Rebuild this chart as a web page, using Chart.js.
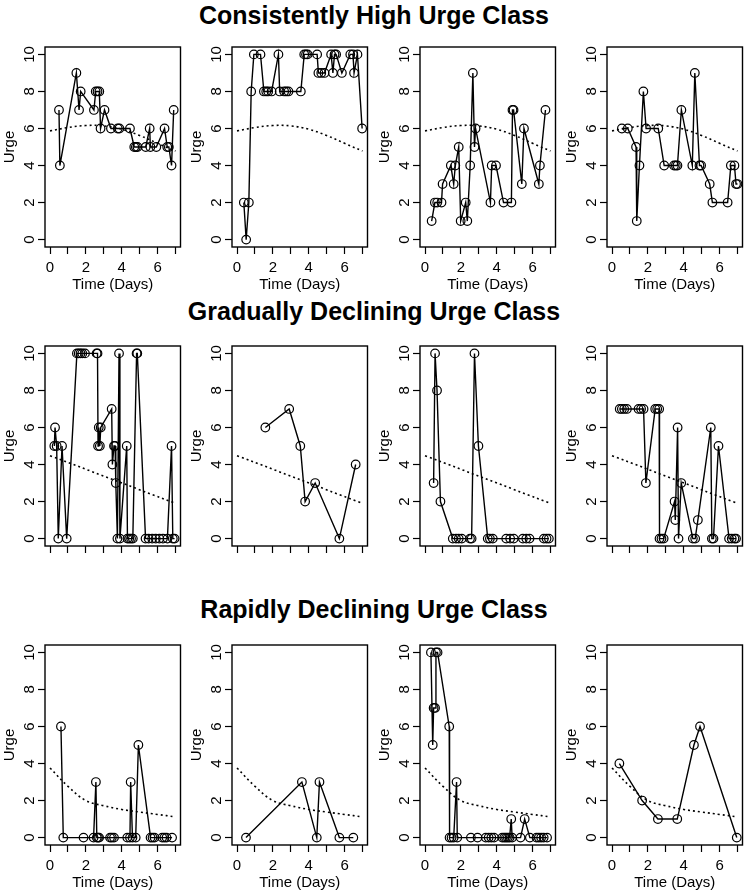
<!DOCTYPE html>
<html>
<head>
<meta charset="utf-8">
<script src="https://cdn.jsdelivr.net/npm/chart.js@4.4.1/dist/chart.umd.min.js"></script>
<style>
  body { margin: 0; background: #fff; width: 748px; height: 896px; overflow: hidden; position: relative; }
  .rowTitle { position: absolute; left: 0; width: 748px; text-align: center; font: bold 25px "Liberation Sans", Arial, Helvetica, sans-serif; line-height: 25px; color: #000; }
  canvas { position: absolute; }
</style>
</head>
<body>
<div class="rowTitle" style="top:3px">Consistently High Urge Class</div>
<div class="rowTitle" style="top:299px">Gradually Declining Urge Class</div>
<div class="rowTitle" style="top:597px">Rapidly Declining Urge Class</div>

<script>
// axis ticks
const xTicks = [0, 1, 2, 3, 4, 5, 6, 7];
const xLabelDays = [0, 2, 4, 6];
const yTicks = [0, 2, 4, 6, 8, 10];

// model mean trajectories (dotted)
const curveDays = [0, 1, 2, 3, 4, 5, 6, 7];
const highCurve = [5.87, 6.05, 6.16, 6.14, 5.96, 5.62, 5.20, 4.78];
const gradualDays = [0, 7];
const gradualCurve = [4.48, 1.90];
const rapidCurve = [3.76, 2.77, 2.00, 1.72, 1.52, 1.38, 1.25, 1.12];

// consistently high class
const highA_days = [0.50,0.55,1.47,1.62,1.71,2.45,2.55,2.65,2.75,2.82,3.04,3.40,3.78,3.87,4.46,4.70,4.79,4.88,5.34,5.56,5.60,5.93,6.39,6.54,6.63,6.78,6.90];
const highA_urge = [7,4,9,7,8,7,8,8,8,6,7,6,6,6,6,5,5,5,5,6,5,5,6,5,5,4,7];
const highB_days = [0.38,0.51,0.66,0.79,0.94,1.31,1.50,1.63,1.74,1.93,2.31,2.38,2.63,2.75,2.87,3.56,3.75,3.85,3.94,4.47,4.54,4.70,4.88,5.25,5.35,5.44,5.53,5.85,6.32,6.47,6.53,6.72,6.98];
const highB_urge = [2,0,2,8,10,10,8,8,8,8,10,8,8,8,8,8,10,10,10,10,9,9,9,10,9,10,10,9,10,10,9,10,6];
const highC_days = [0.37,0.55,0.68,0.92,0.98,1.44,1.60,1.69,1.88,1.99,2.27,2.36,2.52,2.67,2.76,2.82,3.65,3.72,3.96,4.38,4.82,4.88,4.94,5.40,5.52,6.35,6.41,6.72];
const highC_urge = [1,2,2,2,3,4,3,4,5,1,2,1,4,9,5,6,2,4,4,2,2,7,7,3,6,3,4,7];
const highD_days = [0.55,0.88,1.34,1.38,1.53,1.75,1.90,2.58,2.91,3.46,3.56,3.65,3.87,4.48,4.62,4.88,4.97,5.45,5.60,6.45,6.63,6.83,6.92,7.00];
const highD_urge = [6,6,5,1,4,8,6,6,4,4,4,4,7,4,9,4,4,3,2,2,4,4,3,3];

// gradually declining class
const gradA_days = [0.24,0.28,0.37,0.46,0.67,0.93,1.50,1.60,1.70,1.80,1.95,2.60,2.65,2.68,2.72,2.78,2.83,3.44,3.48,3.57,3.63,3.67,3.76,3.85,3.90,4.28,4.32,4.42,4.52,4.62,4.83,4.87,5.33,5.50,5.70,5.90,6.10,6.30,6.55,6.78,6.85,6.95];
const gradA_urge = [5,6,5,0,5,0,10,10,10,10,10,10,10,5,6,5,6,7,4,5,5,3,0,10,0,5,0,0,0,0,10,10,0,0,0,0,0,0,0,5,0,0];
const gradB_days = [1.58,2.91,3.53,3.80,4.36,5.71,6.62];
const gradB_urge = [6,7,5,2,3,0,4];
const gradC_days = [0.48,0.56,0.67,0.86,1.55,1.73,1.88,2.05,2.51,2.60,2.76,2.98,3.50,3.62,3.78,4.53,4.75,4.95,5.46,5.65,5.83,6.63,6.78,6.91];
const gradC_urge = [3,10,8,2,0,0,0,0,0,0,10,5,0,0,0,0,0,0,0,0,0,0,0,0];
const gradD_days = [0.43,0.55,0.68,0.83,1.48,1.62,1.76,1.89,2.41,2.52,2.63,2.65,2.76,2.88,3.49,3.53,3.66,3.71,3.86,4.51,4.64,4.79,5.51,5.57,5.66,5.94,6.53,6.68,6.83,6.92];
const gradD_urge = [7,7,7,7,7,7,7,3,7,7,7,0,0,0,2,1,6,0,3,0,0,1,6,0,0,5,0,0,0,0];

// rapidly declining class
const rapidA_days = [0.61,0.74,1.87,2.43,2.56,2.61,2.68,2.74,3.35,3.45,3.57,4.31,4.46,4.50,4.60,4.78,4.93,5.61,5.72,5.83,6.26,6.38,6.50,6.81];
const rapidA_urge = [6,0,0,0,3,0,0,0,0,0,0,0,0,3,0,0,5,0,0,0,0,0,0,0];
const rapidB_days = [0.50,3.62,4.45,4.60,5.71,6.49];
const rapidB_urge = [0,3,0,3,0,0];
const rapidC_days = [0.33,0.43,0.48,0.56,0.61,0.70,1.35,1.37,1.48,1.60,1.76,1.80,2.56,2.93,3.39,3.55,3.70,3.85,4.31,4.42,4.52,4.62,4.72,4.81,4.86,5.33,5.56,5.85,6.22,6.35,6.48,6.62,6.81];
const rapidC_urge = [10,5,7,7,10,10,6,0,0,0,3,0,0,0,0,0,0,0,0,0,0,0,0,1,0,0,1,0,0,0,0,0,0];
const rapidD_days = [0.41,1.68,2.56,3.64,4.57,4.91,6.96];
const rapidD_urge = [4,2,1,1,5,6,0];

const fontFamily = '"Liberation Sans", Arial, Helvetica, sans-serif';
Chart.defaults.font.family = fontFamily;
Chart.defaults.color = '#000';

const colLefts = [45, 232, 420, 607];
const rowTops = [47, 346, 645];
const boxW = 137, boxH = 200;

// box around the plot region
const boxPlugin = {
  id: 'plotBox',
  afterDatasetsDraw(chart) {
    const a = chart.chartArea, ctx = chart.ctx;
    ctx.save();
    ctx.strokeStyle = '#000';
    ctx.lineWidth = 1.4;
    ctx.strokeRect(a.left, a.top, a.right - a.left, a.bottom - a.top);
    ctx.restore();
  }
};

function toPoints(xs, ys) {
  return xs.map((x, i) => ({x: x, y: ys[i]}));
}

function makePanel(row, col, days, urge, cDays, cVals, showX) {
  const canvas = document.createElement('canvas');
  canvas.width = 45 + boxW + 4;
  canvas.height = 10 + boxH + 50;
  canvas.style.left = (colLefts[col] - 45) + 'px';
  canvas.style.top = (rowTops[row] - 10) + 'px';
  document.body.appendChild(canvas);

  new Chart(canvas.getContext('2d'), {
    type: 'line',
    data: {
      datasets: [
        {
          data: toPoints(days, urge),
          borderColor: '#000',
          borderWidth: 1.4,
          tension: 0,
          pointRadius: 4.3,
          pointBorderWidth: 1.2,
          pointBorderColor: '#000',
          pointBackgroundColor: 'rgba(0,0,0,0)',
          fill: false
        },
        {
          data: toPoints(cDays, cVals),
          borderColor: '#000',
          borderWidth: 1.6,
          borderDash: [2, 3],
          pointRadius: 0,
          tension: 0.4,
          fill: false
        }
      ]
    },
    options: {
      responsive: false,
      animation: false,
      layout: {padding: {top: 10, right: 4, left: 0, bottom: 0}},
      plugins: {legend: {display: false}, tooltip: {enabled: false}},
      scales: {
        x: {
          type: 'linear',
          min: -0.28,
          max: 7.28,
          afterBuildTicks: s => { s.ticks = xTicks.map(v => ({value: v})); },
          afterFit: s => { s.height = 50; },
          border: {display: false},
          grid: {drawOnChartArea: false, drawTicks: true, tickLength: 7, tickColor: '#000', tickWidth: 1.2},
          ticks: {
            autoSkip: false, maxRotation: 0, padding: 5, color: '#000',
            font: {size: 15},
            callback: v => (showX && xLabelDays.includes(v)) ? String(v) : ''
          },
          title: {display: showX, text: 'Time (Days)', color: '#000', font: {size: 15}, padding: {top: 0, bottom: 3}}
        },
        y: {
          min: -0.4,
          max: 10.4,
          afterBuildTicks: s => { s.ticks = yTicks.map(v => ({value: v})); },
          afterFit: s => { s.width = 45; },
          border: {display: false},
          grid: {drawOnChartArea: false, drawTicks: true, tickLength: 7, tickColor: '#000', tickWidth: 1.2},
          ticks: {
            minRotation: 90, maxRotation: 90, crossAlign: 'center', padding: 0, color: '#000',
            font: {size: 15},
            callback: v => String(v)
          },
          title: {display: true, text: 'Urge', color: '#000', font: {size: 15}, padding: {top: 1, bottom: 0}}
        }
      }
    },
    plugins: [boxPlugin]
  });
}

makePanel(0, 0, highA_days, highA_urge, curveDays, highCurve, true);
makePanel(0, 1, highB_days, highB_urge, curveDays, highCurve, true);
makePanel(0, 2, highC_days, highC_urge, curveDays, highCurve, true);
makePanel(0, 3, highD_days, highD_urge, curveDays, highCurve, true);

makePanel(1, 0, gradA_days, gradA_urge, gradualDays, gradualCurve, false);
makePanel(1, 1, gradB_days, gradB_urge, gradualDays, gradualCurve, false);
makePanel(1, 2, gradC_days, gradC_urge, gradualDays, gradualCurve, false);
makePanel(1, 3, gradD_days, gradD_urge, gradualDays, gradualCurve, false);

makePanel(2, 0, rapidA_days, rapidA_urge, curveDays, rapidCurve, true);
makePanel(2, 1, rapidB_days, rapidB_urge, curveDays, rapidCurve, true);
makePanel(2, 2, rapidC_days, rapidC_urge, curveDays, rapidCurve, true);
makePanel(2, 3, rapidD_days, rapidD_urge, curveDays, rapidCurve, true);
</script>
</body>
</html>
